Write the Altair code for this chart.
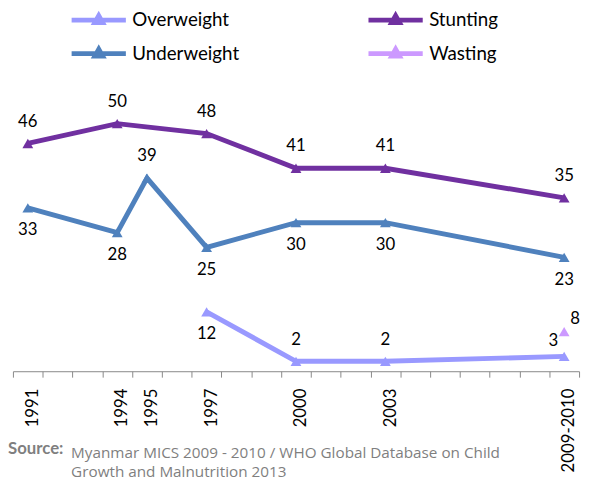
import altair as alt
import pandas as pd

series = ["Overweight", "Stunting", "Underweight", "Wasting"]
colors = ["#9999FF", "#7030A0", "#4F81BD", "#CC99FF"]

stunting_years = [1991, 1994, 1997, 2000, 2003, 2009]
stunting = [46, 50, 48, 41, 41, 35]
stunting_pos = ["above", "above", "above", "above", "above", "above"]

underweight_years = [1991, 1994, 1995, 1997, 2000, 2003, 2009]
underweight = [33, 28, 39, 25, 30, 30, 23]
underweight_pos = ["below", "below", "above", "below", "below", "below", "below"]

overweight_years = [1997, 2000, 2003, 2009]
overweight = [12, 2, 2, 3]
overweight_pos = ["below", "above", "above", "above-left"]

wasting_years = [2009]
wasting = [8]
wasting_pos = ["above-right"]

label_years = [1991, 1994, 1995, 1997, 2000, 2003, 2009]
label_text = ["1991", "1994", "1995", "1997", "2000", "2003", "2009-2010"]

source_head = "Source:"
source_line1 = "Myanmar MICS 2009 - 2010 / WHO Global Database on Child"
source_line2 = "Growth and Malnutrition 2013"

rows = []
for name, yrs, vals, pos in [
    ("Stunting", stunting_years, stunting, stunting_pos),
    ("Underweight", underweight_years, underweight, underweight_pos),
    ("Overweight", overweight_years, overweight, overweight_pos),
    ("Wasting", wasting_years, wasting, wasting_pos),
]:
    for y, v, p in zip(yrs, vals, pos):
        rows.append({"year": y, "value": v, "series": name, "pos": p})
df = pd.DataFrame(rows)

FONT = "Lato"

# ticks between year categories
tick_vals = [1990.5 + i for i in range(20)]
expr = "''"
for yv, lt in zip(reversed(label_years), reversed(label_text)):
    expr = f"(datum.value + 0.5 == {yv}) ? '{lt}' : ({expr})"

x_axis = alt.Axis(
    values=tick_vals, labelExpr=expr, labelAngle=-90, labelOffset=20,
    labelFontSize=17, labelFont=FONT, labelColor="#000000",
    labelPadding=11, tickSize=6, tickColor="#888888", domainColor="#888888",
    labelOverlap=False, grid=False, title=None, labelBound=False,
    labelFlush=False,
)
x_scale = alt.Scale(domain=[1990.5, 2009.5], nice=False, zero=False)
x_enc = alt.X("year:Q", scale=x_scale, axis=x_axis)
y_enc = alt.Y("value:Q", scale=alt.Scale(domain=[0, 72.7], nice=False, zero=True), axis=None)

legend_symbol = "M-1,0L1,0M-0.14,0.09L0,-0.16L0.14,0.09Z"
color_enc = alt.Color(
    "series:N",
    scale=alt.Scale(domain=series, range=colors),
    legend=alt.Legend(
        orient="none", legendX=57, legendY=-1, columns=2, direction="horizontal",
        title=None,
        symbolType=legend_symbol, symbolSize=3025, symbolStrokeWidth=5,
        labelFontSize=19, labelFont=FONT, labelColor="#000000",
        clipHeight=20, rowPadding=14, columnPadding=128, padding=0,
        labelOffset=4,
    ),
)

base = alt.Chart(df)
lines = base.mark_line(
    strokeWidth=5,
    point=alt.OverlayMarkDef(shape="triangle-up", size=120, filled=True, opacity=1),
).encode(x=x_enc, y=y_enc, color=color_enc, detail="series:N")

def lbl(pos, dx, dy):
    return base.transform_filter(alt.datum.pos == pos).mark_text(
        font=FONT, fontSize=17, color="#000000", dx=dx, dy=dy, baseline="middle"
    ).encode(x=x_enc, y=y_enc, text="value:Q")

labels = [lbl("above", 0, -22), lbl("below", 0, 23),
          lbl("above-left", -11, -16), lbl("above-right", 11, -13)]

src_head = alt.Chart(pd.DataFrame({"t": [source_head]})).mark_text(
    font=FONT, fontSize=17, fontWeight="bold", color="#7F7F7F", align="left", baseline="middle"
).encode(x=alt.value(-5), y=alt.value(444), text="t:N")

src_l1 = alt.Chart(pd.DataFrame({"t": [source_line1]})).mark_text(
    font="Open Sans", fontSize=15.5, color="#7F7F7F", align="left", baseline="middle",
).encode(x=alt.value(59), y=alt.value(448), text="t:N")

src_l2 = alt.Chart(pd.DataFrame({"t": [source_line2]})).mark_text(
    font="Open Sans", fontSize=15.5, color="#7F7F7F", align="left", baseline="middle",
).encode(x=alt.value(59), y=alt.value(467), text="t:N")

chart = alt.layer(lines, *labels, src_head, src_l1, src_l2).properties(
    width=574, height=365,
    autosize=alt.AutoSizeParams(type="none"),
    padding={"left": 5, "top": 0, "right": 4, "bottom": 108},
).configure_view(stroke=None)

chart.save("out.html", embed_options={"renderer": "svg", "actions": False})
